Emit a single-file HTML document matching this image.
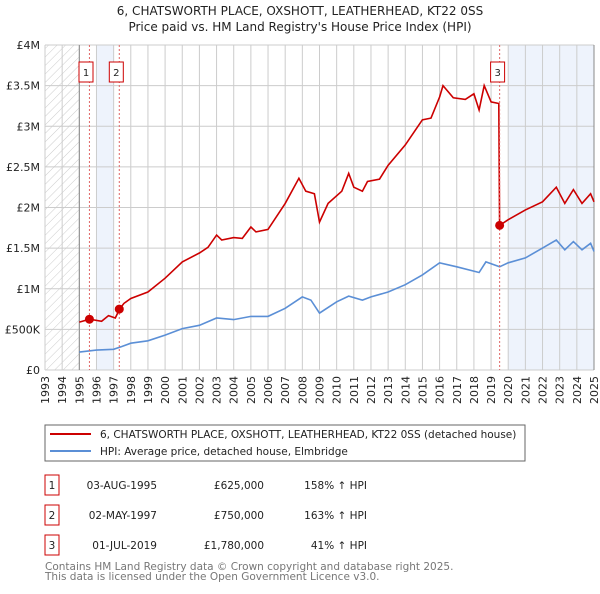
<!DOCTYPE html>
<html><head><meta charset="utf-8"><style>
body{margin:0;background:#fff;font-family:"DejaVu Sans","Liberation Sans",sans-serif;}
svg text{font-family:"DejaVu Sans","Liberation Sans",sans-serif;}
</style></head><body>
<svg id="c" width="600" height="590" xmlns="http://www.w3.org/2000/svg">
<defs><pattern id="h" width="6" height="6" patternUnits="userSpaceOnUse" patternTransform="rotate(45)"><line x1="0" y1="0" x2="0" y2="6" stroke="#ccc" stroke-width="1"/></pattern></defs>
<text x="300" y="15" text-anchor="middle" font-size="12" fill="#222">6, CHATSWORTH PLACE, OXSHOTT, LEATHERHEAD, KT22 0SS</text>
<text x="300" y="31" text-anchor="middle" font-size="12" fill="#222">Price paid vs. HM Land Registry's House Price Index (HPI)</text>
<g id="bg"></g><g id="grid"></g><g id="series"></g><g id="marks"></g>
<rect x="45" y="425" width="480" height="36" fill="none" stroke="#666"/>
<line x1="50" y1="434" x2="91" y2="434" stroke="#cc0000" stroke-width="2"/>
<text x="100" y="438" font-size="10.5" fill="#222">6, CHATSWORTH PLACE, OXSHOTT, LEATHERHEAD, KT22 0SS (detached house)</text>
<line x1="50" y1="451" x2="91" y2="451" stroke="#5b8fd6" stroke-width="2"/>
<text x="100" y="455" font-size="10.5" fill="#222">HPI: Average price, detached house, Elmbridge</text>
<g id="tbl" font-size="10.5" fill="#222"></g>
<text x="45" y="570" font-size="10.5" fill="#777">Contains HM Land Registry data © Crown copyright and database right 2025.</text>
<text x="45" y="580" font-size="10.5" fill="#777">This data is licensed under the Open Government Licence v3.0.</text>
</svg>
<script>
const hpiYears=[1995,1996,1997,1997.5,1998,1999,2000,2001,2002,2003,2004,2005,2006,2007,2008,2008.5,2009,2010,2010.7,2011.5,2012,2013,2014,2015,2016,2017,2018.3,2018.7,2019.5,2020,2021,2022,2022.8,2023.3,2023.8,2024.3,2024.8,2025];
const hpiValues=[220,245,255,290,330,360,430,510,550,640,620,660,660,760,900,860,700,840,910,860,900,960,1050,1170,1320,1270,1200,1330,1270,1320,1380,1500,1600,1480,1580,1480,1560,1460];
const redYears=[1995,1995.6,1996.3,1996.7,1997.1,1997.35,1997.6,1998,1999,2000,2001,2002,2002.5,2003,2003.3,2004,2004.5,2005,2005.3,2006,2007,2007.8,2008.2,2008.7,2009,2009.5,2010.3,2010.7,2011,2011.5,2011.8,2012.5,2013,2014,2015,2015.5,2016,2016.2,2016.8,2017.5,2018,2018.3,2018.6,2019,2019.45,2019.5,2020,2021,2022,2022.8,2023.3,2023.8,2024.3,2024.8,2025];
const redValues=[590,625,600,670,640,750,820,880,960,1130,1330,1440,1510,1660,1600,1630,1620,1760,1700,1730,2050,2360,2200,2170,1820,2050,2200,2420,2250,2200,2320,2350,2520,2770,3080,3100,3360,3500,3350,3330,3400,3200,3500,3300,3280,1780,1850,1970,2070,2250,2050,2220,2050,2170,2070];
const saleYears=[1995.59,1997.33,2019.5];
const saleValues=[625,750,1780];
const saleLabels=["1","2","3"];
const saleDates=["03-AUG-1995","02-MAY-1997","01-JUL-2019"];
const salePrices=["£625,000","£750,000","£1,780,000"];
const salePct=["158% ↑ HPI","163% ↑ HPI","41% ↑ HPI"];
const yTicks=[0,500,1000,1500,2000,2500,3000,3500,4000];
const yTickLabels=["£0","£500K","£1M","£1.5M","£2M","£2.5M","£3M","£3.5M","£4M"];
const xTicks=[1993,1994,1995,1996,1997,1998,1999,2000,2001,2002,2003,2004,2005,2006,2007,2008,2009,2010,2011,2012,2013,2014,2015,2016,2017,2018,2019,2020,2021,2022,2023,2024,2025];

const NS="http://www.w3.org/2000/svg";
const X0=45,X1=594,Y0=370,Y1=45;
const xs=y=>X0+(y-1993)/(2025-1993)*(X1-X0);
const ys=v=>Y0-v/4000*(Y0-Y1);
function mk(tag,attrs,parent,txt){const e=document.createElementNS(NS,tag);for(const k in attrs)e.setAttribute(k,attrs[k]);if(txt!==undefined)e.textContent=txt;document.getElementById(parent).appendChild(e);return e;}
let e;
e=mk('rect',{x:X0,y:Y1,width:X1-X0,height:Y0-Y1,fill:'#fff'},'bg');


e=mk('rect',{x:xs(1993),y:Y1,width:xs(1995)-xs(1993),height:Y0-Y1,fill:'url(#h)'},'bg');


e=mk('rect',{x:xs(1996),y:Y1,width:xs(1997)-xs(1996),height:Y0-Y1,fill:'#eef3fc'},'bg');


e=mk('rect',{x:xs(2020),y:Y1,width:X1-xs(2020),height:Y0-Y1,fill:'#eef3fc'},'bg');


yTicks.forEach((t,i)=>{
 e=mk('line',{x1:X0,x2:X1,y1:ys(t),y2:ys(t),stroke:'#ccc'},'grid');
 
 
 e=mk('text',{x:X0-5,y:ys(t)+4,'text-anchor':'end','font-size':'11',fill:'#222'},'grid',yTickLabels[i]);
 
 
});
xTicks.forEach(t=>{
 e=mk('line',{x1:xs(t),x2:xs(t),y1:Y1,y2:Y0,stroke:'#ccc'},'grid');
 
 
 e=mk('text',{x:0,y:0,'text-anchor':'end','font-size':'11',fill:'#222',transform:`translate(${xs(t)+4},${Y0+6}) rotate(-90)`},'grid',String(t));
 
 
});
e=mk('line',{x1:xs(1995),x2:xs(1995),y1:Y1,y2:Y0,stroke:'#888'},'grid');


e=mk('line',{x1:X1,x2:X1,y1:Y1,y2:Y0,stroke:'#888'},'grid');


const path=(xa,va)=>xa.map((x,i)=>(i?'L':'M')+xs(x).toFixed(1)+','+ys(va[i]).toFixed(1)).join('');
e=mk('path',{d:path(hpiYears,hpiValues),fill:'none',stroke:'#5b8fd6','stroke-width':1.6},'series');


e=mk('path',{d:path(redYears,redValues),fill:'none',stroke:'#cc0000','stroke-width':1.6},'series');


const boxOff=[-10.4,-10,-9];
saleYears.forEach((y,i)=>{
 e=mk('line',{x1:xs(y),x2:xs(y),y1:Y1,y2:Y0,stroke:'#e06666','stroke-dasharray':'2,2'},'marks');
 
 
 e=mk('circle',{cx:xs(y),cy:ys(saleValues[i]),r:4.5,fill:'#cc0000'},'marks');
 
 
 const bx=xs(y)+boxOff[i];
 e=mk('rect',{x:bx.toFixed(1),y:62,width:14,height:20,fill:'#fff',stroke:'#cc0000'},'marks');
 
 
 e=mk('text',{x:bx+7,y:76,'text-anchor':'middle','font-size':'10',fill:'#222'},'marks',saleLabels[i]);
 
 
});
saleLabels.forEach((l,i)=>{
 const yy=475+i*30;
 e=mk('rect',{x:45,y:yy,width:14,height:20,fill:'#fff',stroke:'#cc0000'},'tbl');
 
 
 e=mk('text',{x:52,y:yy+14,'text-anchor':'middle'},'tbl',l);
 
 
 e=mk('text',{x:157,y:yy+14,'text-anchor':'end'},'tbl',saleDates[i]);
 
 
 e=mk('text',{x:264,y:yy+14,'text-anchor':'end'},'tbl',salePrices[i]);
 
 
 e=mk('text',{x:367,y:yy+14,'text-anchor':'end'},'tbl',salePct[i]);
 
 
});
</script>
</body></html>
